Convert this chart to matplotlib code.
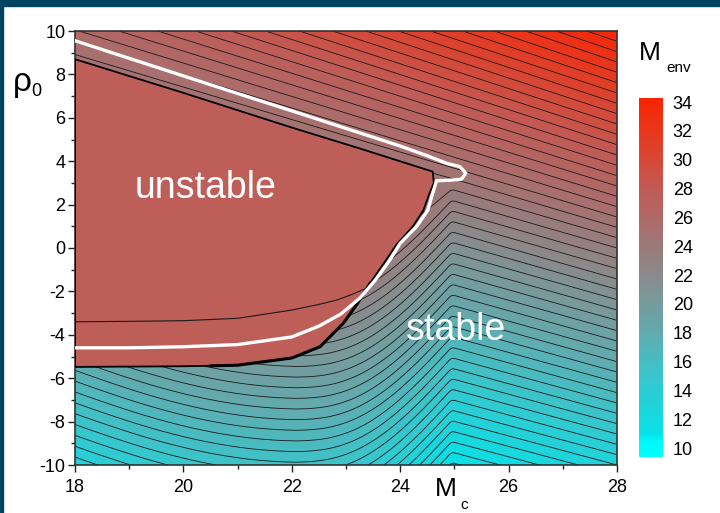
"""Envelope mass map over core mass and rho_0, with the unstable region marked."""

import numpy as np
import matplotlib
matplotlib.use("Agg")
import matplotlib.pyplot as plt
import matplotlib.ticker as mticker
from matplotlib.colors import LinearSegmentedColormap, Normalize
from matplotlib.patches import Polygon, Rectangle

plt.rcParams["font.family"] = ["Liberation Sans", "DejaVu Sans"]
plt.rcParams["axes.unicode_minus"] = False

# ---- level-line geometry ----
# on the right edge (Mc = 28) M_env grows linearly with rho_0
M_AT_ZERO = 23.5
M_PER_RHO = 1.05

# slope of the straight level lines (drop in rho per unit Mc), by right-edge intercept
slope_c = [-16, -12, 0, 4, 10, 14]
slope_val = [0.66, 0.66, 0.72, 0.80, 0.86, 0.86]

# local slope (d rho / d Mc) of the lower level lines, left of the kink at Mc = 25
low_mc = [18, 19, 20, 21, 22, 22.5, 23, 23.5, 24, 24.5, 24.9, 25.0, 28]
low_slope = [-0.9, -0.8, -0.6, -0.35, -0.05, 0.3, 0.9, 1.6, 2.2, 2.6, 2.7, -0.68, -0.68]
LOW_TILT = 0.68

# intercepts between which the sag fades out (lines above pass over the tip)
sag_lo, sag_hi = 0.3, 1.0

# contour spacing and colour scale
level_step = 0.5
cbar_lo, cbar_hi = 9.4, 34.3
cbar_ticks = [10, 12, 14, 16, 18, 20, 22, 24, 26, 28, 30, 32, 34]
cmap_vals = [9.4, 10.4, 11.0, 12, 14, 16, 18, 20, 22, 24, 26, 28, 30, 32, 34, 34.3]
cmap_rgb = [(0, 255, 255), (0, 250, 252), (10, 226, 231), (22, 218, 224),
            (45, 205, 212), (70, 190, 195), (98, 171, 175), (118, 156, 158),
            (138, 139, 140), (156, 122, 122), (175, 106, 104), (193, 91, 86),
            (214, 73, 56), (232, 56, 30), (246, 40, 6), (248, 38, 0)]

# unstable region (plateau) outline
unstable_value = 27.6
poly_mc = [18, 20, 22, 23.3, 24.6, 24.62, 24.53, 24.43, 24.23, 23.93, 23.7,
           23.45, 23.2, 22.95, 22.52, 22.0, 21.0, 20.0, 18.0]
poly_rho = [8.7, 7.15, 5.55, 4.55, 3.52, 3.0, 2.45, 1.75, 0.98, 0.15, -0.7,
            -1.6, -2.6, -3.47, -4.55, -5.07, -5.4, -5.45, -5.48]
# stretch of the outline where the contour lines pile up
edge_mc = [20.5, 21.0, 22.0, 22.52, 22.95, 23.2, 23.45]
edge_rho = [-5.43, -5.4, -5.07, -4.55, -3.47, -2.6, -1.6]

# white stability boundary
white_mc = [18, 19, 20, 21, 22, 23.26, 24.0, 24.5, 24.86, 25.1, 25.21, 25.13,
            24.9, 24.67, 24.6, 24.51, 24.3, 24.0, 23.81, 23.55, 23.26, 22.9,
            22.5, 22.0, 21.0, 20.0, 19.0, 18.0]
white_rho = [9.55, 8.74, 7.93, 7.12, 6.32, 5.3, 4.7, 4.25, 3.9, 3.75, 3.45, 3.17,
             3.12, 3.1, 2.53, 1.75, 0.98, 0.22, -0.55, -1.45, -2.3, -3.05,
             -3.6, -4.1, -4.45, -4.55, -4.6, -4.6]

# thin contour left inside the unstable region
inner_mc = [18, 19, 20, 21, 22, 22.5, 22.83, 23.1, 23.38]
inner_rho = [-3.4, -3.38, -3.35, -3.24, -2.86, -2.6, -2.4, -2.15, -1.85]

# ---- build the field ----
mc = np.linspace(18, 28, 601)
rho = np.linspace(-10, 10, 501)
cc = np.linspace(-16, 14, 3001)

# sag of the lower lines below the straight tilt, integrated from the local slopes
dsag = np.interp(mc, low_mc, low_slope) + LOW_TILT
dx = mc[1] - mc[0]
seg = 0.5 * (dsag[1:] + dsag[:-1]) * dx
sag_all = np.concatenate([-np.cumsum(seg[::-1])[::-1], [0.0]])

s = np.interp(cc, slope_c, slope_val)
t = np.clip((cc - sag_lo) / (sag_hi - sag_lo), 0, 1)
w = t * t * (3 - 2 * t)
M = np.empty((rho.size, mc.size))
for i, x in enumerate(mc):
    yline = cc + (1 - w) * sag_all[i] + s * (28 - x)
    M[:, i] = M_AT_ZERO + M_PER_RHO * np.interp(rho, yline, cc)
M = np.minimum(M, cbar_hi)

cmap = LinearSegmentedColormap.from_list(
    "env",
    [((v - cbar_lo) / (cbar_hi - cbar_lo), tuple(c / 255 for c in rgb))
     for v, rgb in zip(cmap_vals, cmap_rgb)])
norm = Normalize(cbar_lo, cbar_hi)

# ---- draw ----
fig = plt.figure(figsize=(7.2, 5.13), dpi=100)
ax = fig.add_axes([75 / 720, 48 / 513, 542 / 720, 434 / 513])

ax.imshow(M, extent=[18, 28, -10, 10], origin="lower", aspect="auto",
          cmap=cmap, norm=norm, interpolation="bilinear", zorder=1)
ax.contour(mc, rho, M, levels=np.arange(10.0, cbar_hi, level_step),
           colors="#1a1a1a", linewidths=0.6, zorder=2)

ax.add_patch(Polygon(np.column_stack([poly_mc, poly_rho]), closed=True,
                     facecolor=cmap(norm(unstable_value)), edgecolor="black",
                     linewidth=1.3, zorder=3))
ax.plot(edge_mc, edge_rho, color="black", lw=2.2, solid_capstyle="round", zorder=3.5)
ax.plot(inner_mc, inner_rho, color="#1a1a1a", lw=0.8, zorder=4)
ax.plot(white_mc, white_rho, color="white", lw=2.4, solid_joinstyle="round",
        zorder=5)

ax.text(20.4, 2.75, "unstable", color="white", fontsize=27, ha="center",
        va="center", zorder=6)
ax.text(25.03, -3.8, "stable", color="white", fontsize=27, ha="center",
        va="center", zorder=6)

ax.set_xlim(18, 28)
ax.set_ylim(-10, 10)
ax.xaxis.set_major_locator(mticker.MultipleLocator(2))
ax.xaxis.set_minor_locator(mticker.MultipleLocator(1))
ax.yaxis.set_major_locator(mticker.MultipleLocator(2))
ax.yaxis.set_minor_locator(mticker.MultipleLocator(1))
ax.tick_params(which="both", direction="out", top=False, right=False,
               labelsize=13, width=1.0, color="#222222")
ax.tick_params(which="major", length=5)
ax.tick_params(which="minor", length=3)
ax.tick_params(axis="y", pad=2)
ax.tick_params(axis="x", pad=5)
for sp in ax.spines.values():
    sp.set_color("#333333")
    sp.set_linewidth(1.2)

fig.text(22 / 720, 1 - 82 / 513, "ρ", fontsize=24, ha="center", va="center")
fig.text(36 / 720, 1 - 92 / 513, "0", fontsize=13, ha="center", va="center")
fig.text(446 / 720, 1 - 489 / 513, "M", fontsize=19, ha="center", va="center")
fig.text(464 / 720, 1 - 505 / 513, "c", fontsize=11, ha="center", va="center")
fig.text(650 / 720, 1 - 53 / 513, "M", fontsize=19, ha="center", va="center")
fig.text(679 / 720, 1 - 68 / 513, "env", fontsize=11, ha="center", va="center")

# colour bar
cax = fig.add_axes([639 / 720, (513 - 456.7) / 513, 24 / 720, 359 / 513])
grad = np.linspace(cbar_lo, cbar_hi, 400)[:, None]
cax.imshow(grad, extent=[0, 1, cbar_lo, cbar_hi], origin="lower", aspect="auto",
           cmap=cmap, norm=norm)
cax.set_xlim(0, 1)
cax.set_ylim(cbar_lo, cbar_hi)
cax.set_xticks([])
cax.set_yticks(cbar_ticks)
cax.yaxis.tick_right()
cax.tick_params(axis="y", length=0, labelsize=13, pad=7)
for sp in cax.spines.values():
    sp.set_visible(False)

# slide frame
fig.add_artist(Rectangle((0, 1 - 6 / 513), 1, 6 / 513, transform=fig.transFigure,
                         color="#00445f", zorder=10))
fig.add_artist(Rectangle((0, 0), 3 / 720, 1, transform=fig.transFigure,
                         color="#00445f", zorder=10))

fig.savefig("out.png", dpi=100, facecolor="white")
plt.close(fig)
